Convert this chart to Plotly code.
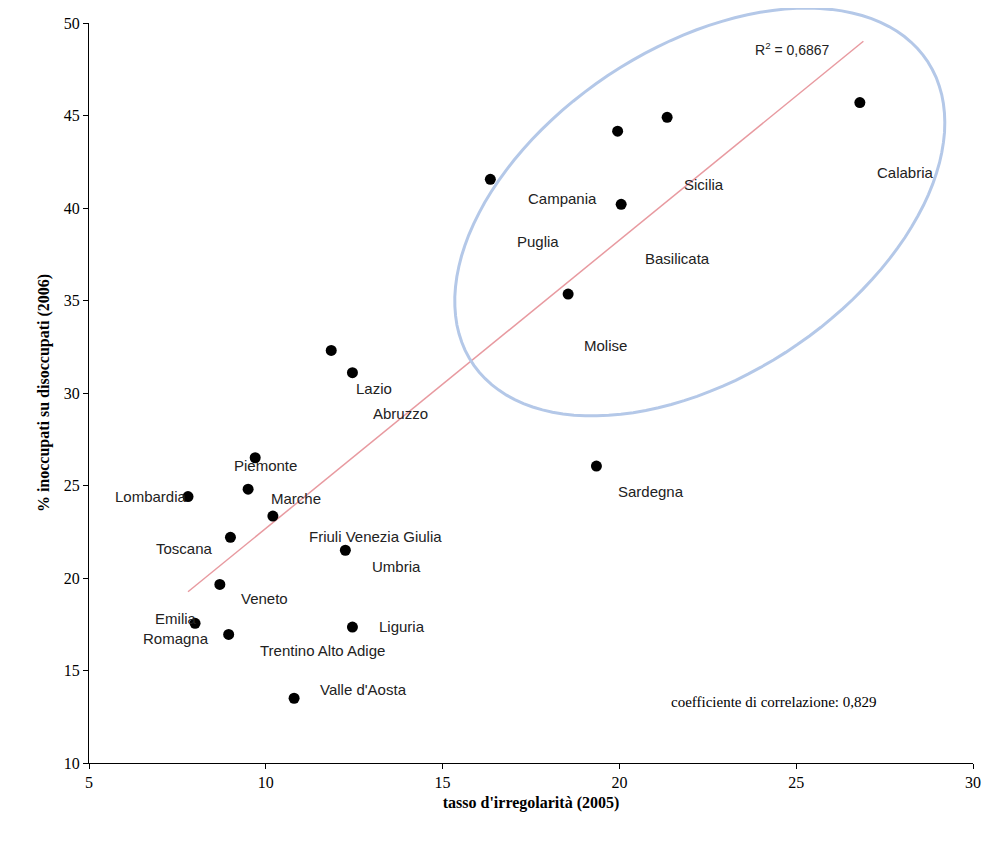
import numpy as np
import plotly.graph_objects as go

regioni = ["Calabria", "Sicilia", "Campania", "Basilicata", "Puglia", "Molise",
           "Lazio", "Abruzzo", "Piemonte", "Sardegna", "Lombardia", "Marche",
           "Friuli Venezia Giulia", "Toscana", "Umbria", "Veneto", "Emilia<br>Romagna",
           "Trentino Alto Adige", "Liguria", "Valle d'Aosta"]
irregolarita = [26.8, 21.35, 19.95, 20.05, 16.35, 18.55, 11.85, 12.45, 9.7, 19.35,
                7.8, 9.5, 10.2, 9.0, 12.25, 8.7, 8.0, 8.95, 12.45, 10.8]
inoccupati = [45.7, 44.9, 44.15, 40.2, 41.55, 35.35, 32.3, 31.1, 26.5, 26.05,
              24.4, 24.8, 23.35, 22.2, 21.5, 19.65, 17.55, 16.95, 17.35, 13.5]

# posizioni delle etichette (come nel grafico originale)
lab_x = [28.1, 22.4, 18.4, 21.65, 17.7, 19.6, 13.05, 13.8, 10.0, 20.9,
         6.75, 10.85, 13.1, 7.7, 13.7, 9.95, 7.45, 11.6, 13.85, 12.75]
lab_y = [41.9, 41.25, 40.5, 37.25, 38.2, 32.55, 30.25, 28.9, 26.1, 24.7,
         24.4, 24.3, 22.25, 21.6, 20.6, 18.9, 17.25, 16.1, 17.4, 13.95]

m, q = np.polyfit(irregolarita, inoccupati, 1)
xl = np.array([7.8, 26.9])

fig = go.Figure()
fig.add_trace(go.Scatter(x=xl, y=m * xl + q, mode="lines",
                         line=dict(color="#e89aa0", width=1.5), hoverinfo="skip"))
fig.add_trace(go.Scatter(x=irregolarita, y=inoccupati, mode="markers", text=regioni,
                         marker=dict(color="black", size=11)))

# ellisse (pixel della pagina, convertiti in coordinate paper per non essere tagliata)
def px2x(p): return (p - 89) / 893
def px2y(p): return 1 - (p - 23) / 740
th = np.linspace(0, 2 * np.pi, 120)
ang = np.radians(33)
ex = 706 + 275 * np.cos(th) * np.cos(ang) - 165 * np.sin(th) * np.sin(ang)
ey = 212 - 275 * np.cos(th) * np.sin(ang) - 165 * np.sin(th) * np.cos(ang)
path = "M " + " L ".join(f"{px2x(a):.4f},{px2y(c):.4f}" for a, c in zip(ex, ey)) + " Z"
fig.add_shape(type="path", path=path, xref="paper", yref="paper",
              line=dict(color="#b4c8e8", width=3))

for n, x, y in zip(regioni, lab_x, lab_y):
    fig.add_annotation(x=x, y=y, text=n, showarrow=False,
                       font=dict(family="Liberation Sans", size=15, color="#222"))
fig.add_annotation(x=24.9, y=48.6, text="R<sup>2</sup> = 0,6867", showarrow=False,
                   font=dict(family="Liberation Sans", size=14, color="#222"))
fig.add_annotation(x=24.35, y=13.3, text="coefficiente di correlazione: 0,829", showarrow=False,
                   font=dict(family="Liberation Serif", size=15, color="black"))

ax = dict(showgrid=False, zeroline=False, showline=True, linecolor="black",
          ticks="outside", ticklen=5, tickcolor="black", mirror=False, automargin=False,
          tickfont=dict(family="Liberation Serif", size=16, color="black"))
fig.update_xaxes(range=[5, 30], dtick=5, title=dict(text="<b>tasso d'irregolarità (2005)</b>", standoff=6,
                 font=dict(family="Liberation Serif", size=16, color="black")), **ax)
fig.update_yaxes(range=[10, 50], dtick=5, title=dict(text="<b>% inoccupati su disoccupati (2006)</b>", standoff=10,
                 font=dict(family="Liberation Serif", size=16, color="black")), **ax)
fig.update_layout(width=976, height=825, margin=dict(l=81, r=11, t=15, b=70), showlegend=False,
                  plot_bgcolor="white", paper_bgcolor="white")
fig.write_html("out.html")
